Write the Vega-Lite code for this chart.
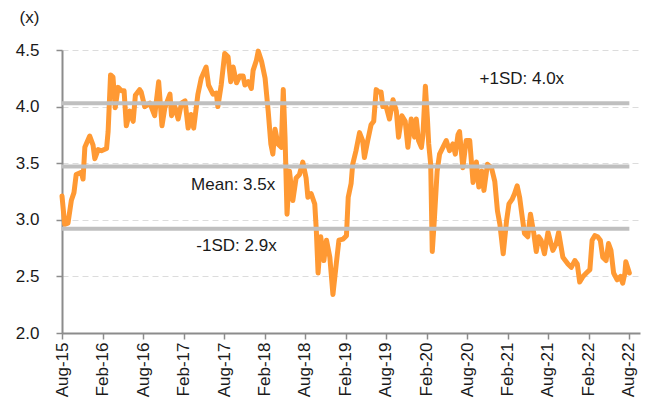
{
  "$schema": "https://vega.github.io/schema/vega-lite/v6.json",
  "width": 578,
  "height": 283,
  "autosize": "none",
  "padding": {"left": 62, "top": 50, "right": 8, "bottom": 75},
  "background": "white",
  "config": {
    "view": {"stroke": null},
    "font": "Liberation Sans",
    "axis": {
      "labelFont": "Liberation Sans",
      "labelFontSize": 17,
      "labelColor": "#1a1a1a",
      "domainColor": "#8c8c8c",
      "domainWidth": 2,
      "tickColor": "#8c8c8c",
      "tickWidth": 1.5,
      "tickSize": 6
    }
  },
  "datasets": {
    "pe": [
      {"date": "2015-08-01", "v": 3.21}, {"date": "2015-08-13", "v": 2.96}, {"date": "2015-08-28", "v": 2.97},
      {"date": "2015-09-12", "v": 3.17}, {"date": "2015-09-24", "v": 3.24}, {"date": "2015-10-04", "v": 3.40},
      {"date": "2015-10-27", "v": 3.42}, {"date": "2015-11-04", "v": 3.36}, {"date": "2015-11-12", "v": 3.64},
      {"date": "2015-12-04", "v": 3.74}, {"date": "2015-12-19", "v": 3.66}, {"date": "2015-12-27", "v": 3.54},
      {"date": "2016-01-11", "v": 3.62}, {"date": "2016-01-26", "v": 3.61}, {"date": "2016-02-18", "v": 3.63},
      {"date": "2016-02-25", "v": 3.78}, {"date": "2016-03-07", "v": 4.28}, {"date": "2016-03-18", "v": 4.26},
      {"date": "2016-03-28", "v": 3.99}, {"date": "2016-04-10", "v": 4.17}, {"date": "2016-04-25", "v": 4.14},
      {"date": "2016-05-07", "v": 4.14}, {"date": "2016-05-17", "v": 3.83}, {"date": "2016-06-02", "v": 3.96},
      {"date": "2016-06-17", "v": 3.87}, {"date": "2016-06-27", "v": 4.10}, {"date": "2016-07-16", "v": 4.15},
      {"date": "2016-07-23", "v": 4.13}, {"date": "2016-08-08", "v": 4.00}, {"date": "2016-08-31", "v": 4.03},
      {"date": "2016-09-22", "v": 3.92}, {"date": "2016-10-10", "v": 4.22}, {"date": "2016-10-25", "v": 3.83},
      {"date": "2016-11-07", "v": 3.99}, {"date": "2016-11-30", "v": 4.11}, {"date": "2016-12-07", "v": 3.92},
      {"date": "2016-12-22", "v": 4.00}, {"date": "2017-01-06", "v": 3.89}, {"date": "2017-01-21", "v": 4.03},
      {"date": "2017-02-06", "v": 4.05}, {"date": "2017-02-20", "v": 3.81}, {"date": "2017-03-05", "v": 3.93},
      {"date": "2017-03-17", "v": 3.81}, {"date": "2017-04-05", "v": 4.11}, {"date": "2017-04-20", "v": 4.25},
      {"date": "2017-05-12", "v": 4.35}, {"date": "2017-05-23", "v": 4.19}, {"date": "2017-06-12", "v": 4.11},
      {"date": "2017-06-27", "v": 4.12}, {"date": "2017-07-04", "v": 4.00}, {"date": "2017-07-19", "v": 4.19},
      {"date": "2017-08-04", "v": 4.47}, {"date": "2017-08-19", "v": 4.44}, {"date": "2017-08-31", "v": 4.22},
      {"date": "2017-09-11", "v": 4.35}, {"date": "2017-09-26", "v": 4.21}, {"date": "2017-10-11", "v": 4.27},
      {"date": "2017-10-26", "v": 4.27}, {"date": "2017-11-03", "v": 4.19}, {"date": "2017-11-18", "v": 4.22},
      {"date": "2017-12-02", "v": 4.16}, {"date": "2017-12-10", "v": 4.32}, {"date": "2017-12-25", "v": 4.41},
      {"date": "2018-01-02", "v": 4.49}, {"date": "2018-01-17", "v": 4.40}, {"date": "2018-02-02", "v": 4.25},
      {"date": "2018-02-16", "v": 3.96}, {"date": "2018-02-28", "v": 3.67}, {"date": "2018-03-09", "v": 3.58},
      {"date": "2018-03-19", "v": 3.80}, {"date": "2018-04-01", "v": 3.67}, {"date": "2018-04-16", "v": 3.64},
      {"date": "2018-04-25", "v": 4.15}, {"date": "2018-05-03", "v": 3.73}, {"date": "2018-05-12", "v": 3.05},
      {"date": "2018-05-23", "v": 3.43}, {"date": "2018-06-07", "v": 3.17}, {"date": "2018-06-22", "v": 3.37},
      {"date": "2018-07-07", "v": 3.40}, {"date": "2018-07-22", "v": 3.51}, {"date": "2018-08-06", "v": 3.37},
      {"date": "2018-08-14", "v": 3.20}, {"date": "2018-08-29", "v": 3.23}, {"date": "2018-09-14", "v": 3.14},
      {"date": "2018-09-21", "v": 2.91}, {"date": "2018-09-29", "v": 2.53}, {"date": "2018-10-11", "v": 2.85},
      {"date": "2018-10-25", "v": 2.64}, {"date": "2018-11-06", "v": 2.82}, {"date": "2018-11-21", "v": 2.67},
      {"date": "2018-12-05", "v": 2.34}, {"date": "2018-12-20", "v": 2.61}, {"date": "2019-01-01", "v": 2.82},
      {"date": "2019-01-20", "v": 2.83}, {"date": "2019-02-04", "v": 2.86}, {"date": "2019-02-12", "v": 3.20},
      {"date": "2019-02-25", "v": 3.32}, {"date": "2019-03-04", "v": 3.49}, {"date": "2019-03-19", "v": 3.61},
      {"date": "2019-04-04", "v": 3.77}, {"date": "2019-04-18", "v": 3.70}, {"date": "2019-04-26", "v": 3.55},
      {"date": "2019-05-11", "v": 3.70}, {"date": "2019-05-26", "v": 3.84}, {"date": "2019-06-07", "v": 3.87},
      {"date": "2019-06-18", "v": 4.15}, {"date": "2019-06-29", "v": 4.13}, {"date": "2019-07-10", "v": 4.13},
      {"date": "2019-07-18", "v": 4.00}, {"date": "2019-08-02", "v": 4.00}, {"date": "2019-08-17", "v": 3.89},
      {"date": "2019-09-02", "v": 4.06}, {"date": "2019-09-17", "v": 3.96}, {"date": "2019-09-27", "v": 3.73},
      {"date": "2019-10-12", "v": 3.92}, {"date": "2019-10-27", "v": 3.87}, {"date": "2019-11-08", "v": 3.64},
      {"date": "2019-11-23", "v": 3.89}, {"date": "2019-12-08", "v": 3.73}, {"date": "2019-12-16", "v": 3.89},
      {"date": "2019-12-26", "v": 3.70}, {"date": "2020-01-08", "v": 3.64}, {"date": "2020-01-15", "v": 3.75},
      {"date": "2020-01-26", "v": 4.18}, {"date": "2020-02-04", "v": 3.90}, {"date": "2020-02-10", "v": 3.67},
      {"date": "2020-02-19", "v": 3.49}, {"date": "2020-02-26", "v": 2.72}, {"date": "2020-03-07", "v": 3.02},
      {"date": "2020-03-19", "v": 3.43}, {"date": "2020-03-30", "v": 3.58}, {"date": "2020-04-14", "v": 3.64},
      {"date": "2020-04-29", "v": 3.70}, {"date": "2020-05-14", "v": 3.61}, {"date": "2020-05-29", "v": 3.67},
      {"date": "2020-06-09", "v": 3.58}, {"date": "2020-06-21", "v": 3.75}, {"date": "2020-06-28", "v": 3.78},
      {"date": "2020-07-13", "v": 3.46}, {"date": "2020-07-28", "v": 3.70}, {"date": "2020-08-13", "v": 3.70},
      {"date": "2020-08-28", "v": 3.33}, {"date": "2020-09-12", "v": 3.51}, {"date": "2020-09-23", "v": 3.29},
      {"date": "2020-10-07", "v": 3.43}, {"date": "2020-10-16", "v": 3.26}, {"date": "2020-11-01", "v": 3.49},
      {"date": "2020-11-19", "v": 3.46}, {"date": "2020-12-04", "v": 3.34}, {"date": "2020-12-16", "v": 3.08},
      {"date": "2020-12-27", "v": 2.96}, {"date": "2021-01-11", "v": 2.70}, {"date": "2021-01-26", "v": 2.99},
      {"date": "2021-02-06", "v": 3.14}, {"date": "2021-02-20", "v": 3.18}, {"date": "2021-03-03", "v": 3.23},
      {"date": "2021-03-15", "v": 3.30}, {"date": "2021-03-26", "v": 3.20}, {"date": "2021-04-05", "v": 3.05},
      {"date": "2021-04-17", "v": 2.88}, {"date": "2021-05-02", "v": 2.85}, {"date": "2021-05-14", "v": 3.05},
      {"date": "2021-05-29", "v": 2.88}, {"date": "2021-06-09", "v": 2.72}, {"date": "2021-06-20", "v": 2.85},
      {"date": "2021-07-01", "v": 2.82}, {"date": "2021-07-16", "v": 2.70}, {"date": "2021-08-01", "v": 2.89},
      {"date": "2021-08-23", "v": 2.73}, {"date": "2021-09-07", "v": 2.79}, {"date": "2021-09-18", "v": 2.89},
      {"date": "2021-10-07", "v": 2.67}, {"date": "2021-10-30", "v": 2.61}, {"date": "2021-11-14", "v": 2.58},
      {"date": "2021-11-30", "v": 2.64}, {"date": "2021-12-11", "v": 2.61}, {"date": "2021-12-22", "v": 2.45},
      {"date": "2022-01-06", "v": 2.50}, {"date": "2022-01-21", "v": 2.53}, {"date": "2022-02-06", "v": 2.56},
      {"date": "2022-02-16", "v": 2.82}, {"date": "2022-02-28", "v": 2.86}, {"date": "2022-03-13", "v": 2.85},
      {"date": "2022-03-25", "v": 2.82}, {"date": "2022-04-05", "v": 2.67}, {"date": "2022-04-20", "v": 2.64},
      {"date": "2022-05-01", "v": 2.79}, {"date": "2022-05-12", "v": 2.73}, {"date": "2022-05-24", "v": 2.53},
      {"date": "2022-06-09", "v": 2.47}, {"date": "2022-06-24", "v": 2.50}, {"date": "2022-07-04", "v": 2.44},
      {"date": "2022-07-14", "v": 2.53}, {"date": "2022-07-18", "v": 2.63}, {"date": "2022-08-03", "v": 2.53}
    ],
    "refs": [
      {"date": "2015-08-01", "v": 4.03, "ref": "+1SD"}, {"date": "2022-08-03", "v": 4.03, "ref": "+1SD"},
      {"date": "2015-08-01", "v": 3.47, "ref": "Mean"}, {"date": "2022-08-03", "v": 3.47, "ref": "Mean"},
      {"date": "2015-08-01", "v": 2.92, "ref": "-1SD"}, {"date": "2022-08-03", "v": 2.92, "ref": "-1SD"}
    ],
    "labels": [
      {"date": "2021-04-05", "v": 4.24, "text": "+1SD: 4.0x"},
      {"date": "2017-09-11", "v": 3.31, "text": "Mean: 3.5x"},
      {"date": "2017-09-26", "v": 2.77, "text": "-1SD: 2.9x"}
    ]
  },
  "encoding": {
    "x": {
      "field": "date", "type": "temporal",
      "scale": {"domain": ["2015-08-01", "2022-09-20"]},
      "axis": {
        "title": null,
        "grid": false,
        "format": "%b-%y",
        "labelAngle": -90,
        "labelPadding": 3,
        "values": ["2015-08-01", "2016-02-01", "2016-08-01", "2017-02-01", "2017-08-01", "2018-02-01", "2018-08-01", "2019-02-01", "2019-08-01", "2020-02-01", "2020-08-01", "2021-02-01", "2021-08-01", "2022-02-01", "2022-08-01"]
      }
    },
    "y": {
      "field": "v", "type": "quantitative",
      "scale": {"domain": [2, 4.5], "nice": false, "zero": false},
      "axis": {
        "title": "(x)",
        "titleAngle": 0,
        "titleX": -33,
        "titleY": -33,
        "titleAlign": "center",
        "titleBaseline": "middle",
        "titleFont": "Liberation Sans",
        "titleFontSize": 17,
        "titleFontWeight": "normal",
        "titleColor": "#1a1a1a",
        "values": [2, 2.5, 3, 3.5, 4, 4.5],
        "format": ".1f",
        "labelPadding": 17,
        "grid": true,
        "gridColor": "#dcdcdc",
        "gridDash": [6, 4],
        "gridWidth": 1
      }
    }
  },
  "layer": [
    {
      "data": {"name": "pe"},
      "mark": {"type": "line", "color": "#ff9933", "strokeWidth": 5, "strokeJoin": "round", "strokeCap": "round"}
    },
    {
      "data": {"name": "refs"},
      "mark": {"type": "line", "color": "#bfbfbf", "strokeWidth": 4, "strokeCap": "butt"},
      "encoding": {"detail": {"field": "ref", "type": "nominal"}}
    },
    {
      "data": {"name": "labels"},
      "mark": {"type": "text", "font": "Liberation Sans", "fontSize": 17, "color": "#1a1a1a", "align": "center", "baseline": "middle"},
      "encoding": {"text": {"field": "text", "type": "nominal"}}
    }
  ]
}
